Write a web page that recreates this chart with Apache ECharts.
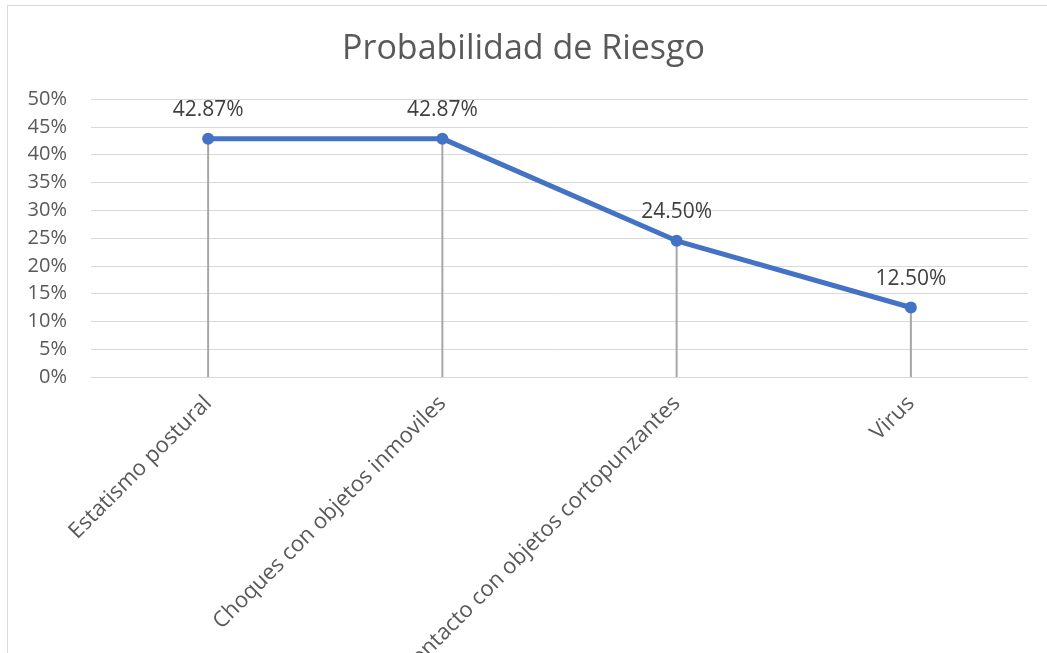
<!DOCTYPE html>
<html>
<head>
<meta charset="utf-8">
<script src="https://cdn.jsdelivr.net/npm/echarts@6/dist/echarts.min.js"></script>
<style>
  html, body { margin: 0; padding: 0; background: #fff; overflow: hidden; }
  #frame { position: absolute; left: 7px; top: 5px; width: 1060px; height: 670px; border: 1px solid #d9d9d9; }
  #main { position: absolute; left: 0; top: 0; width: 1047px; height: 653px; }
</style>
</head>
<body>
<div id="frame"></div>
<div id="main"></div>
<script>
// datos del gráfico
var categorias = ['Estatismo postural', 'Choques con objetos inmoviles', 'Contacto con objetos cortopunzantes', 'Virus'];
var probabilidad = [42.87, 42.87, 24.50, 12.50];
var ticksY = [0, 50, 5]; // min, max, intervalo

var chart = echarts.init(document.getElementById('main'));

var option = {
  animation: false,
  title: {
    text: 'Probabilidad de Riesgo',
    left: 'center',
    top: 27,
    textStyle: { fontFamily: 'Open Sans', fontSize: 34, fontWeight: 'normal', color: '#595959' }
  },
  grid: { left: 91, right: 19, top: 99, bottom: 276, outerBoundsMode: 'none' },
  xAxis: {
    type: 'category',
    data: categorias,
    boundaryGap: true,
    axisLine: { lineStyle: { color: '#d9d9d9', width: 1 } },
    axisTick: { show: false },
    axisLabel: {
      rotate: 45,
      margin: 23,
      interval: 0,
      fontFamily: 'Open Sans',
      fontSize: 22,
      color: '#595959'
    }
  },
  yAxis: {
    type: 'value',
    min: ticksY[0],
    max: ticksY[1],
    interval: ticksY[2],
    axisLine: { show: false },
    axisTick: { show: false },
    splitLine: { lineStyle: { color: '#d9d9d9', width: 1 } },
    axisLabel: {
      formatter: '{value}%',
      margin: 24,
      fontFamily: 'Open Sans',
      fontSize: 20,
      color: '#595959'
    }
  },
  series: [
    {
      // líneas de caída
      type: 'bar',
      data: probabilidad,
      barWidth: 2,
      itemStyle: { color: '#a6a6a6' },
      silent: true,
      z: 1
    },
    {
      type: 'line',
      data: probabilidad,
      symbol: 'circle',
      symbolSize: 12,
      lineStyle: { color: '#4472c4', width: 5 },
      itemStyle: { color: '#4472c4' },
      z: 3,
      label: {
        show: true,
        position: 'top',
        distance: 12,
        formatter: function (p) { return p.value.toFixed(2) + '%'; },
        fontFamily: 'Open Sans',
        fontSize: 21,
        color: '#404040'
      }
    }
  ]
};

chart.setOption(option);
</script>
</body>
</html>
